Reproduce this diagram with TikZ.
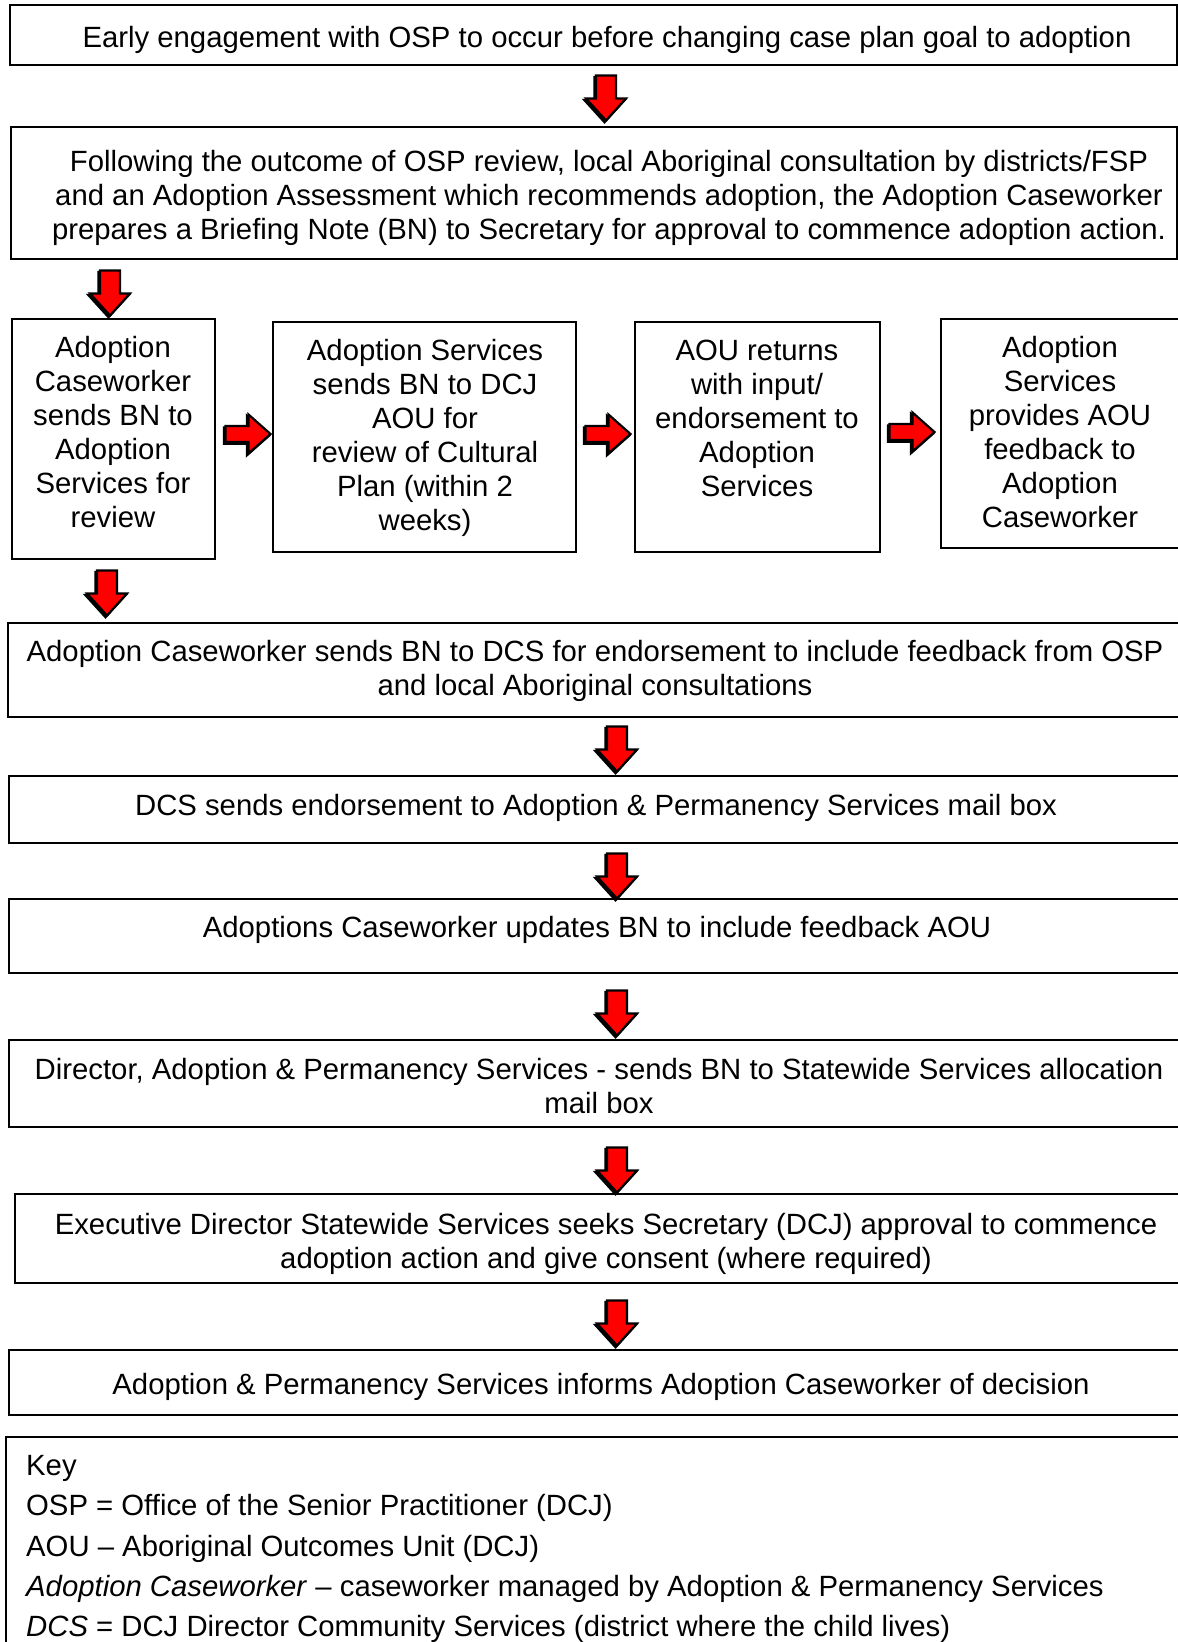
\documentclass[tikz,border=0pt]{standalone}
\usepackage{fontspec}
\setmainfont{Liberation Sans}
\begin{document}
\begin{tikzpicture}[x=1pt,y=1pt,
  box/.style={draw=black, line width=2pt, rectangle, inner sep=0pt, outer sep=0pt, anchor=north west},
  txt/.style={font=\fontsize{29.3}{34}\selectfont, align=center, anchor=north, inner sep=0pt},
  keytxt/.style={font=\fontsize{29.3}{40.3}\selectfont, align=left, anchor=north west, inner sep=0pt},
  arrshadow/.style={fill=black, draw=black, line width=2.5pt, line join=miter},
  arrbody/.style={fill=red, draw=black, line width=2.2pt, line join=miter},
  downarr/.pic={
    \draw[arrshadow] (-11.5,-1.5) -- (8.5,-1.5) -- (8.5,-24.5) -- (18.5,-24.5) -- (-1.5,-46.5) -- (-21.5,-24.5) -- (-11.5,-24.5) -- cycle;
    \draw[arrbody] (-10,0) -- (10,0) -- (10,-23) -- (20,-23) -- (0,-45) -- (-20,-23) -- (-10,-23) -- cycle;
  },
  rightarr/.pic={
    \draw[arrshadow] (-1.5,6.5) -- (21.5,6.5) -- (21.5,18) -- (43.5,-1.5) -- (21.5,-21) -- (21.5,-9.5) -- (-1.5,-9.5) -- cycle;
    \draw[arrbody] (0,8) -- (23,8) -- (23,19.5) -- (45,0) -- (23,-19.5) -- (23,-8) -- (0,-8) -- cycle;
  }]
\useasboundingbox (0,0) rectangle (1178,-1642);
\clip (0,0) rectangle (1178,-1642);

% boxes
\node[box, minimum width=1167pt, minimum height=60pt]  (b1) at (10,-5) {};
\node[box, minimum width=1166pt, minimum height=132pt] (b2) at (11,-127) {};
\node[box, minimum width=203pt, minimum height=240pt]  (bA) at (12,-319) {};
\node[box, minimum width=303pt, minimum height=230pt]  (bB) at (273,-322) {};
\node[box, minimum width=245pt, minimum height=230pt]  (bC) at (635,-322) {};
\node[box, minimum width=300pt, minimum height=229pt]  (bD) at (941,-319) {};
\node[box, minimum width=1200pt, minimum height=94pt]  (bE) at (8,-623) {};
\node[box, minimum width=1200pt, minimum height=67pt]  (bF) at (9,-776) {};
\node[box, minimum width=1200pt, minimum height=74pt]  (bG) at (9,-899) {};
\node[box, minimum width=1200pt, minimum height=87pt]  (bH) at (9,-1040) {};
\node[box, minimum width=1200pt, minimum height=89pt]  (bI) at (15,-1194) {};
\node[box, minimum width=1200pt, minimum height=65pt]  (bJ) at (9,-1350) {};
\node[box, minimum width=1200pt, minimum height=300pt] (bK) at (6,-1437) {};

% texts
\node[txt] (t1) at (607,-23.7) {\strut Early engagement with OSP to occur before changing case plan goal to adoption};
\node[txt] (t2) at (609,-147.9) {\strut Following the outcome of OSP review, local Aboriginal consultation by districts/FSP\\and an Adoption Assessment which recommends adoption, the Adoption Caseworker\\prepares a Briefing Note (BN) to Secretary for approval to commence adoption action.};
\node[txt] (tA) at (113,-333.5) {\strut Adoption\\Caseworker\\sends BN to\\Adoption\\Services for\\review};
\node[txt] (tB) at (425,-336.5) {\strut Adoption Services\\sends BN to DCJ\\AOU for\\review of Cultural\\Plan (within 2\\weeks)};
\node[txt] (tC) at (757,-336.5) {\strut AOU returns\\with input/\\endorsement to\\Adoption\\Services};
\node[txt] (tD) at (1060,-333.5) {\strut Adoption\\Services\\provides AOU\\feedback to\\Adoption\\Caseworker};
\node[txt] (tE) at (595,-637.9) {\strut Adoption Caseworker sends BN to DCS for endorsement to include feedback from OSP\\and local Aboriginal consultations};
\node[txt] (tF) at (596,-791.2) {\strut DCS sends endorsement to Adoption \& Permanency Services mail box};
\node[txt] (tG) at (597,-913.9) {\strut Adoptions Caseworker updates BN to include feedback AOU};
\node[txt] (tH) at (599,-1055.2) {\strut Director, Adoption \& Permanency Services - sends BN to Statewide Services allocation\\mail box};
\node[txt] (tI) at (606,-1210.2) {\strut Executive Director Statewide Services seeks Secretary (DCJ) approval to commence\\adoption action and give consent (where required)};
\node[txt] (tJ) at (601,-1370.2) {\strut Adoption \& Permanency Services informs Adoption Caseworker of decision};
\node[keytxt] (tK) at (26,-1447.0) {\strut Key\\OSP = Office of the Senior Practitioner (DCJ)\\AOU – Aboriginal Outcomes Unit (DCJ)\\\textit{Adoption Caseworker} – caseworker managed by Adoption \& Permanency Services\\\textit{DCS} = DCJ Director Community Services (district where the child lives)};

% block arrows
\coordinate (a1) at (606,-75.5);
\coordinate (a2) at (110,-270.5);
\coordinate (a3) at (107,-570.5);
\coordinate (a4) at (617,-726.5);
\coordinate (a5) at (617,-853.5);
\coordinate (a6) at (617,-990.5);
\coordinate (a7) at (617,-1147.5);
\coordinate (a8) at (617,-1300.5);
\coordinate (r1) at (225.5,-434);
\coordinate (r2) at (585.5,-434);
\coordinate (r3) at (889.5,-432);
\foreach \c in {a1,a2,a3,a4,a5,a6,a7,a8} { \pic at (\c) {downarr}; }
\foreach \c in {r1,r2,r3} { \pic at (\c) {rightarr}; }
\end{tikzpicture}
\end{document}
